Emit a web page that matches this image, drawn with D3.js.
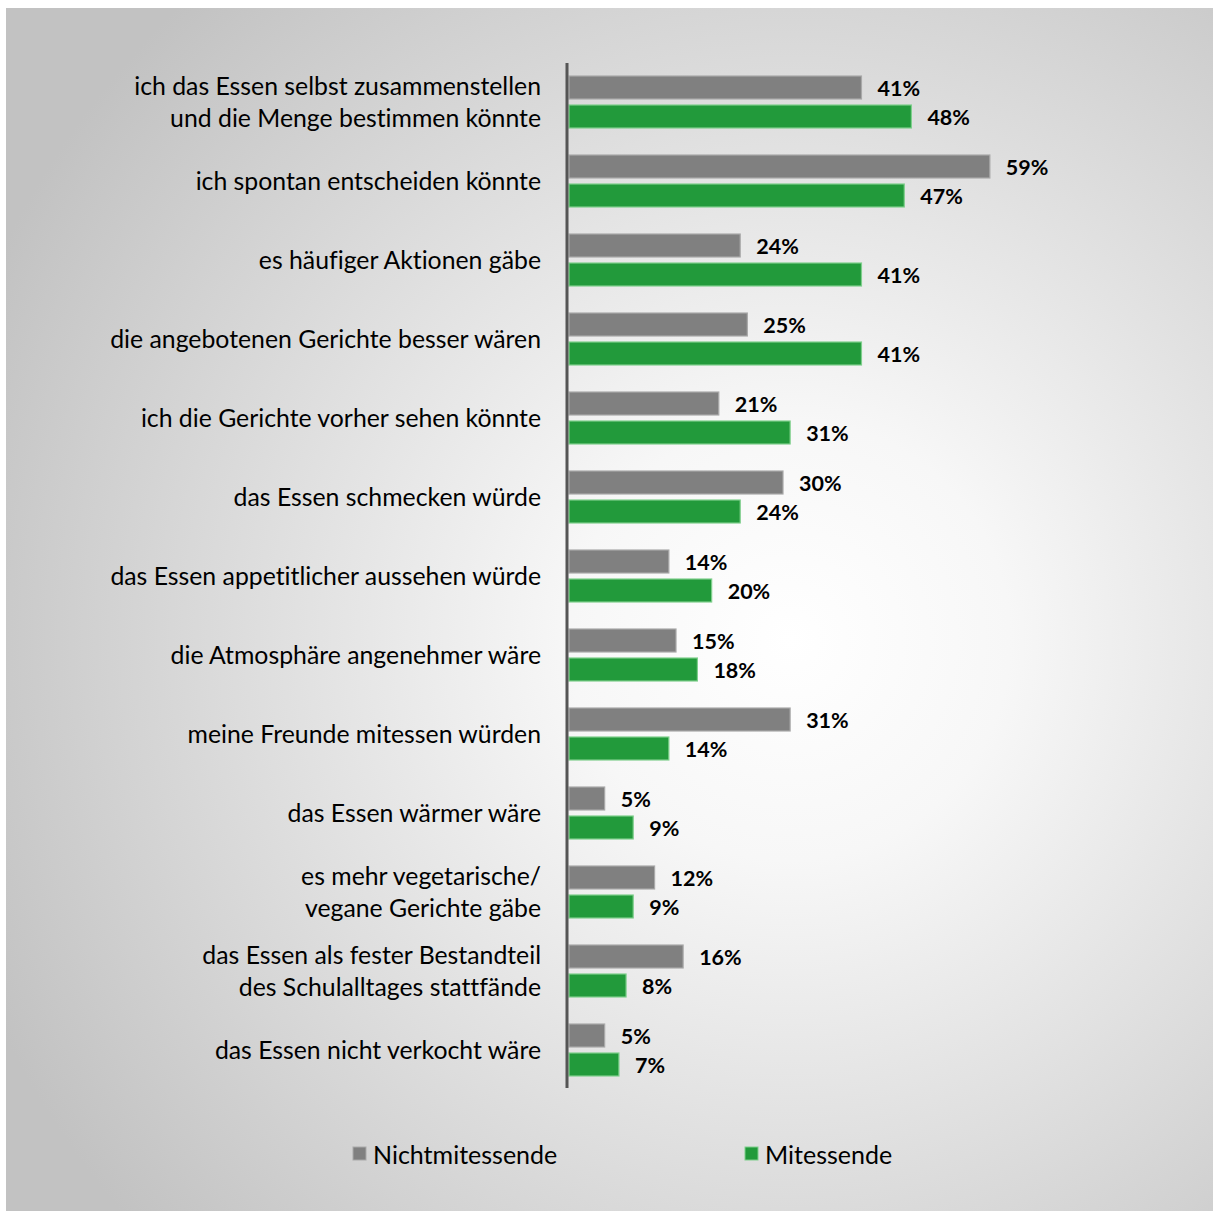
<!DOCTYPE html>
<html>
<head>
<meta charset="utf-8">
<script src="https://cdn.jsdelivr.net/npm/d3@7"></script>
<style>
  html, body { margin: 0; padding: 0; background: #fff; }
  svg { display: block; }
  text { font-variant-ligatures: none; font-feature-settings: "liga" 0, "dlig" 0; }
</style>
</head>
<body>
<svg id="chart" width="1213" height="1211"></svg>
<script>
// Reasons (each entry split into display lines)
const categories = [
  ["ich das Essen selbst zusammenstellen", "und die Menge bestimmen könnte"],
  ["ich spontan entscheiden könnte"],
  ["es häufiger Aktionen gäbe"],
  ["die angebotenen Gerichte besser wären"],
  ["ich die Gerichte vorher sehen könnte"],
  ["das Essen schmecken würde"],
  ["das Essen appetitlicher aussehen würde"],
  ["die Atmosphäre angenehmer wäre"],
  ["meine Freunde mitessen würden"],
  ["das Essen wärmer wäre"],
  ["es mehr vegetarische/", "vegane Gerichte gäbe"],
  ["das Essen als fester Bestandteil", "des Schulalltages stattfände"],
  ["das Essen nicht verkocht wäre"]
];
const nichtmitessende = [41, 59, 24, 25, 21, 30, 14, 15, 31, 5, 12, 16, 5];
const mitessende      = [48, 47, 41, 41, 31, 24, 20, 18, 14, 9, 9, 8, 7];
const seriesNames = ["Nichtmitessende", "Mitessende"];
const seriesColors = ["#808080", "#229a3b"];
const seriesStrokes = ["#a9a9a9", "#7fcf8c"];

const svg = d3.select("#chart");
const W = 1213, H = 1211;

// Panel background with soft radial shading
const defs = svg.append("defs");
const grad = defs.append("radialGradient")
  .attr("id", "bg")
  .attr("gradientUnits", "userSpaceOnUse")
  .attr("cx", 790).attr("cy", 640).attr("r", 880);
grad.append("stop").attr("offset", "0%").attr("stop-color", "#ffffff");
grad.append("stop").attr("offset", "25%").attr("stop-color", "#f7f7f7");
grad.append("stop").attr("offset", "100%").attr("stop-color", "#c2c2c2");

svg.append("rect")
  .attr("x", 6).attr("y", 8)
  .attr("width", W - 6).attr("height", H - 8)
  .attr("fill", "url(#bg)");

const x0 = 569;
const x = d3.scaleLinear().domain([0, 60]).range([x0, x0 + 428]);

const band = d3.scaleBand()
  .domain(d3.range(categories.length))
  .range([73, 73 + 79 * categories.length])
  .paddingInner(0);

const barH = 23, barGap = 6;
const pairTop = i => band(i) + 3;

const font = "Lato, 'Open Sans', sans-serif";

const data = categories.map((c, i) => ({ lines: c, vals: [nichtmitessende[i], mitessende[i]], i }));

const g = svg.append("g");

// Bars with value labels
data.forEach(d => {
  d.vals.forEach((v, s) => {
    const y = pairTop(d.i) + s * (barH + barGap);
    g.append("rect")
      .attr("x", x(0))
      .attr("y", y)
      .attr("width", x(v) - x(0))
      .attr("height", barH)
      .attr("fill", seriesColors[s])
      .attr("stroke", seriesStrokes[s])
      .attr("stroke-width", 1.2);
    g.append("text")
      .attr("x", x(v) + 16)
      .attr("y", y + barH / 2)
      .attr("dominant-baseline", "central")
      .attr("font-family", font)
      .attr("font-weight", "bold")
      .attr("font-size", 21.5)
      .attr("fill", "#000")
      .text(v + "%");
  });

  // Category label
  const cy = pairTop(d.i) + barH + barGap / 2;
  const lh = 32;
  const t = g.append("text")
    .attr("text-anchor", "end")
    .attr("font-family", font)
    .attr("font-size", 24.8)
    .attr("fill", "#000");
  d.lines.forEach((line, k) => {
    t.append("tspan")
      .attr("x", 541)
      .attr("y", cy + (k - (d.lines.length - 1) / 2) * lh - 1)
      .attr("dominant-baseline", "central")
      .text(line);
  });
});

// Vertical category axis
svg.append("line")
  .attr("x1", 567).attr("x2", 567)
  .attr("y1", 63).attr("y2", 1088)
  .attr("stroke", "#555")
  .attr("stroke-width", 3);

// Legend
const legendX = [353, 745];
seriesNames.forEach((name, s) => {
  svg.append("rect")
    .attr("x", legendX[s]).attr("y", 1147)
    .attr("width", 13).attr("height", 13)
    .attr("fill", seriesColors[s])
    .attr("stroke", seriesStrokes[s])
    .attr("stroke-width", 1);
  svg.append("text")
    .attr("x", legendX[s] + 20)
    .attr("y", 1154)
    .attr("dominant-baseline", "central")
    .attr("font-family", font)
    .attr("font-size", 25)
    .attr("fill", "#000")
    .text(name);
});
</script>
</body>
</html>
